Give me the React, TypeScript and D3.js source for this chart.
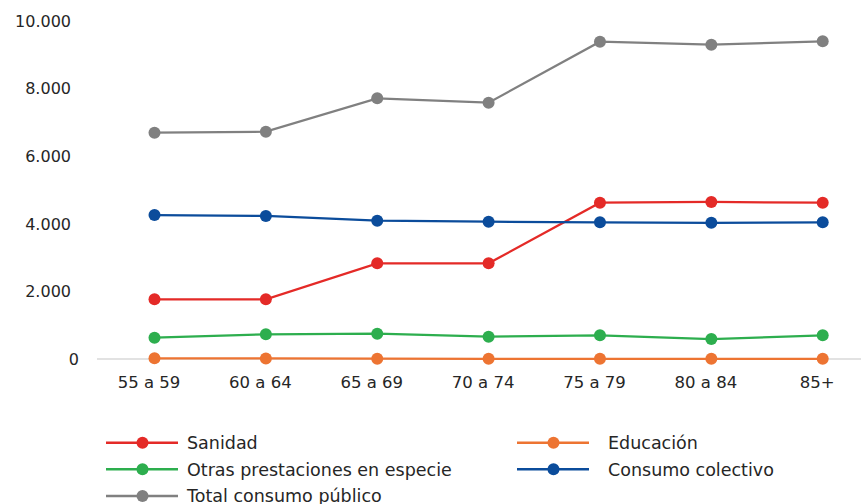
import React from "react";
import * as d3 from "d3";

const categories = ["55 a 59", "60 a 64", "65 a 69", "70 a 74", "75 a 79", "80 a 84", "85+"];
const sanidad = [1766, 1766, 2830, 2830, 4625, 4645, 4625];
const educacion = [20, 15, 8, 5, 5, 5, 5];
const otras = [630, 730, 750, 660, 700, 590, 700];
const colectivo = [4260, 4231, 4092, 4062, 4043, 4030, 4045];
const total = [6695, 6725, 7713, 7583, 9388, 9299, 9399];
const yTicks = [0, 2000, 4000, 6000, 8000, 10000];

const seriesList = [
  { name: "Sanidad", values: sanidad, color: "#E42A27" },
  { name: "Educación", values: educacion, color: "#ED7432" },
  { name: "Otras prestaciones en especie", values: otras, color: "#2DAE4E" },
  { name: "Consumo colectivo", values: colectivo, color: "#0B4C9B" },
  { name: "Total consumo público", values: total, color: "#808080" },
];

const W = 861;
const H = 504;
const FONT = "'DejaVu Sans', Roboto, sans-serif";

export default function App() {
  const x = d3.scalePoint<string>().domain(categories).range([154.5, 822.7]);
  const y = d3.scaleLinear().domain([0, 10000]).range([359, 21]);
  const fmt = (v: number) => d3.format(",")(v).replace(/,/g, ".");
  const line = d3
    .line<number>()
    .x((_, i) => x(categories[i]) as number)
    .y((d) => y(d));

  const legendPos = [
    { lx: 106, tx: 187, y: 442.7 },
    { lx: 517, tx: 608, y: 442.7 },
    { lx: 106, tx: 187, y: 469.3 },
    { lx: 517, tx: 608, y: 469.3 },
    { lx: 106, tx: 187, y: 496 },
  ];

  return (
    <svg
      width={W}
      height={H}
      style={{ position: "absolute", left: 0, top: 0, background: "#fff" }}
      fontFamily={FONT}
    >
      {/* baseline */}
      <line x1={97} x2={W} y1={y(0)} y2={y(0)} stroke="#d9d9d9" strokeWidth={1.5} />
      {/* y tick labels */}
      {yTicks.map((t) => (
        <text
          key={t}
          x={t === 0 ? 79 : 71}
          y={y(t)}
          dy="0.36em"
          textAnchor="end"
          fontSize={16}
          fill="#262626"
        >
          {fmt(t)}
        </text>
      ))}
      {/* x labels */}
      {categories.map((c) => (
        <text
          key={c}
          x={x(c) as number}
          dx={-5.5}
          y={388}
          textAnchor="middle"
          fontSize={16.5}
          fill="#262626"
        >
          {c}
        </text>
      ))}
      {/* series */}
      {seriesList.map((s) => (
        <g key={s.name}>
          <path d={line(s.values) as string} fill="none" stroke={s.color} strokeWidth={2.25} />
          {s.values.map((v, i) => (
            <circle key={i} cx={x(categories[i]) as number} cy={y(v)} r={6} fill={s.color} />
          ))}
        </g>
      ))}
      {/* legend */}
      {seriesList.map((s, i) => {
        const p = legendPos[i];
        return (
          <g key={s.name}>
            <line x1={p.lx} x2={p.lx + 72} y1={p.y} y2={p.y} stroke={s.color} strokeWidth={2.5} />
            <circle cx={p.lx + 36.5} cy={p.y} r={6} fill={s.color} />
            <text x={p.tx} y={p.y} dy="0.36em" fontSize={17.5} fill="#262626">
              {s.name}
            </text>
          </g>
        );
      })}
    </svg>
  );
}
